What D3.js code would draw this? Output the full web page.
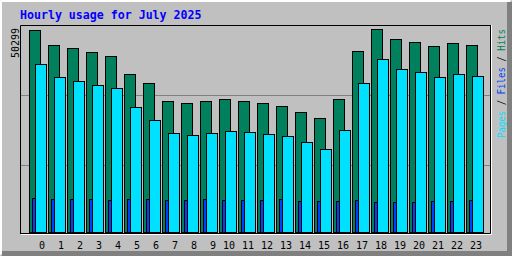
<!DOCTYPE html>
<html>
<head>
<meta charset="utf-8">
<title>Hourly usage</title>
<script src="https://d3js.org/d3.v7.min.js"></script>
<style>
    body { margin: 0; padding: 0; background: #fff; }
    svg { display: block; }
    text { font-family: 'DejaVu Sans Mono', monospace; }
    .title { font-weight: bold; font-size: 11.6px; fill: #0000ff; }
    .small { font-size: 10px; }
</style>
</head>
<body>
<svg id="chart" width="512" height="256"></svg>
<script>
    // hourly numbers
    var hours = d3.range(0, 24);
    var hits  = [50050, 46260, 45520, 44530, 43540, 39080, 36850, 32390, 31890, 32390, 32880, 32390,
                 31890, 31150, 29660, 28170, 32880, 44770, 50299, 47750, 47000, 46010, 46760, 46260];
    var files = [8440, 8190, 8190, 8190, 7940, 8190, 8190, 7940, 7940, 8190, 7940, 7940,
                 7940, 8190, 7690, 7690, 7690, 7940, 7450, 7450, 7450, 7690, 7690, 7940];
    var pages = [41550, 38330, 37340, 36350, 35610, 30900, 27680, 24460, 23960, 24460, 24950, 24700,
                 24210, 23710, 22230, 20490, 25200, 36850, 42790, 40310, 39570, 38330, 39080, 38580];
    var maxLabel = "50299";
    var gridLines = [1, 2];

    var svg = d3.select("#chart");
    const W = 512, H = 256;

    // frame, 3d look
    svg.append("rect").attr("width", W).attr("height", H).attr("fill", "#c0c0c0");
    svg.append("path").attr("d", "M0.5,255 V0.5 H511").attr("stroke", "#fff").attr("fill", "none").attr("stroke-width", 1);
    svg.append("path").attr("d", "M1.5,254 V1.5 H510").attr("stroke", "#fff").attr("fill", "none").attr("stroke-width", 1);
    svg.append("rect").attr("x", 507).attr("y", 2).attr("width", 5).attr("height", 254).attr("fill", "#808080");
    svg.append("rect").attr("x", 2).attr("y", 251).attr("width", 510).attr("height", 5).attr("fill", "#808080");

    var x = d3.scaleBand().domain(hours).range([29, 29 + 19 * 24]);
    var y = d3.scaleLinear().domain([0, +maxLabel]).range([232, 29]);

    // plot box
    svg.append("path").attr("d", "M20.5,233 V25.5 H491").attr("stroke", "#000").attr("fill", "none");
    svg.append("path").attr("d", "M20,233.5 H490.5 V25").attr("stroke", "#000").attr("fill", "none");
    svg.append("path").attr("d", "M21,234.5 H491.5 V25").attr("stroke", "#fff").attr("fill", "none");

    svg.selectAll("line.grid").data(gridLines).enter().append("line")
        .attr("class", "grid")
        .attr("x1", 21).attr("x2", 490)
        .attr("y1", d => 25.5 + d * 70).attr("y2", d => 25.5 + d * 70)
        .attr("stroke", "#808080");

    function bars(data, off, color) {
        svg.append("g").selectAll("rect").data(data).enter().append("rect")
            .attr("x", (d, i) => x(i) + off + 0.5)
            .attr("y", d => Math.round(y(d)) + 0.5)
            .attr("width", 11)
            .attr("height", d => 232 - Math.round(y(d)))
            .attr("fill", color)
            .attr("stroke", "#000")
            .attr("stroke-width", 1);
    }
    bars(hits, 0, "#00805c");
    bars(files, 3, "#0040ff");
    bars(pages, 6, "#00e0ff");

    // hour labels
    svg.append("g").selectAll("text").data(hours).enter().append("text")
        .attr("class", "small")
        .attr("x", d => x(d) + (d < 10 ? 10 : 4))
        .attr("y", 249)
        .text(d => d);

    // title
    svg.append("text").attr("class", "title").attr("x", 20).attr("y", 19)
        .text("Hourly usage for July 2025");

    // max value, rotated
    svg.append("text").attr("class", "small")
        .attr("transform", "translate(19,58) rotate(-90)")
        .text(maxLabel);

    // legend on the right
    var legend = svg.append("text").attr("class", "small")
        .attr("transform", "translate(505,138) rotate(-90)")
        .attr("textLength", 109).attr("lengthAdjust", "spacingAndGlyphs");
    legend.append("tspan").attr("fill", "#00e0ff").text("Pages");
    legend.append("tspan").attr("fill", "#000").text(" / ");
    legend.append("tspan").attr("fill", "#0040ff").text("Files");
    legend.append("tspan").attr("fill", "#000").text(" / ");
    legend.append("tspan").attr("fill", "#00805c").text("Hits");
</script>
</body>
</html>
